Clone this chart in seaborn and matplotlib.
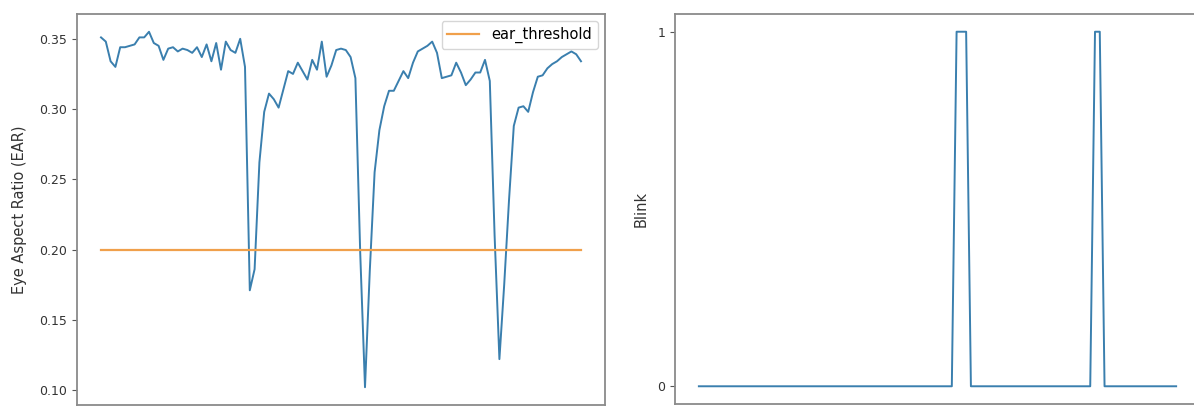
import numpy as np
import pandas as pd
import matplotlib
matplotlib.use("Agg")
import matplotlib.pyplot as plt
import seaborn as sns

# Per-frame eye aspect ratio measurements
ear = [
    0.351, 0.348, 0.334, 0.330, 0.344, 0.344, 0.345, 0.346, 0.351, 0.351,
    0.355, 0.347, 0.345, 0.335, 0.343, 0.344, 0.341, 0.343, 0.342, 0.340,
    0.344, 0.337, 0.346, 0.334, 0.347, 0.328, 0.348, 0.342, 0.340, 0.350,
    0.330, 0.171, 0.186, 0.262, 0.298, 0.311, 0.307, 0.301, 0.314, 0.327,
    0.325, 0.333, 0.327, 0.321, 0.335, 0.328, 0.348, 0.323, 0.331, 0.342,
    0.343, 0.342, 0.337, 0.322, 0.198, 0.102, 0.185, 0.255, 0.285, 0.302,
    0.313, 0.313, 0.320, 0.327, 0.322, 0.333, 0.341, 0.343, 0.345, 0.348,
    0.340, 0.322, 0.323, 0.324, 0.333, 0.326, 0.317, 0.321, 0.326, 0.326,
    0.335, 0.320, 0.210, 0.122, 0.175, 0.235, 0.288, 0.301, 0.302, 0.298,
    0.312, 0.323, 0.324, 0.329, 0.332, 0.334, 0.337, 0.339, 0.341, 0.339,
    0.334,
]
ear_threshold = 0.20
blink_frames = [54, 55, 56, 83, 84]
ear_ticks = [0.10, 0.15, 0.20, 0.25, 0.30, 0.35]
blink_ticks = [0, 1]

frames = np.arange(len(ear))
blink = np.zeros(len(ear), dtype=int)
blink[blink_frames] = 1

df = pd.DataFrame({
    "frame": frames,
    "ear": ear,
    "ear_threshold": ear_threshold,
    "blink": blink,
})

W, H = 1194, 407
fig = plt.figure(figsize=(W / 100, H / 100), dpi=100)
ax1 = fig.add_axes([77 / W, 2 / H, 528 / W, 391 / H])
ax2 = fig.add_axes([675 / W, 3 / H, 525 / W, 390 / H])

blue = "#3a7fae"
orange = "#f0a04b"

sns.lineplot(data=df, x="frame", y="ear", ax=ax1, color=blue, linewidth=1.4)
sns.lineplot(data=df, x="frame", y="ear_threshold", ax=ax1, color=orange,
             linewidth=1.6, label="ear_threshold")
ax1.set_yticks(ear_ticks)
ax1.set_yticklabels([f"{t:.2f}" for t in ear_ticks])
ax1.set_ylabel("Eye Aspect Ratio (EAR)", fontsize=10.5, color="#333333",
               labelpad=9)
ax1.legend(loc="upper right", fontsize=10.5, frameon=True, handlelength=2.2)

sns.lineplot(data=df, x="frame", y="blink", ax=ax2, color=blue, linewidth=1.4)
ax2.set_yticks(blink_ticks)
ax2.set_ylabel("Blink", fontsize=10.5, color="#333333", labelpad=6)

for ax in (ax1, ax2):
    ax.set_xticks([])
    ax.set_xlabel("")
    ax.tick_params(axis="y", labelsize=9, colors="#555555", labelcolor="#333333")
    for sp in ax.spines.values():
        sp.set_color("#8a8a8a")
        sp.set_linewidth(1.3)

fig.savefig("out.png", dpi=100)
